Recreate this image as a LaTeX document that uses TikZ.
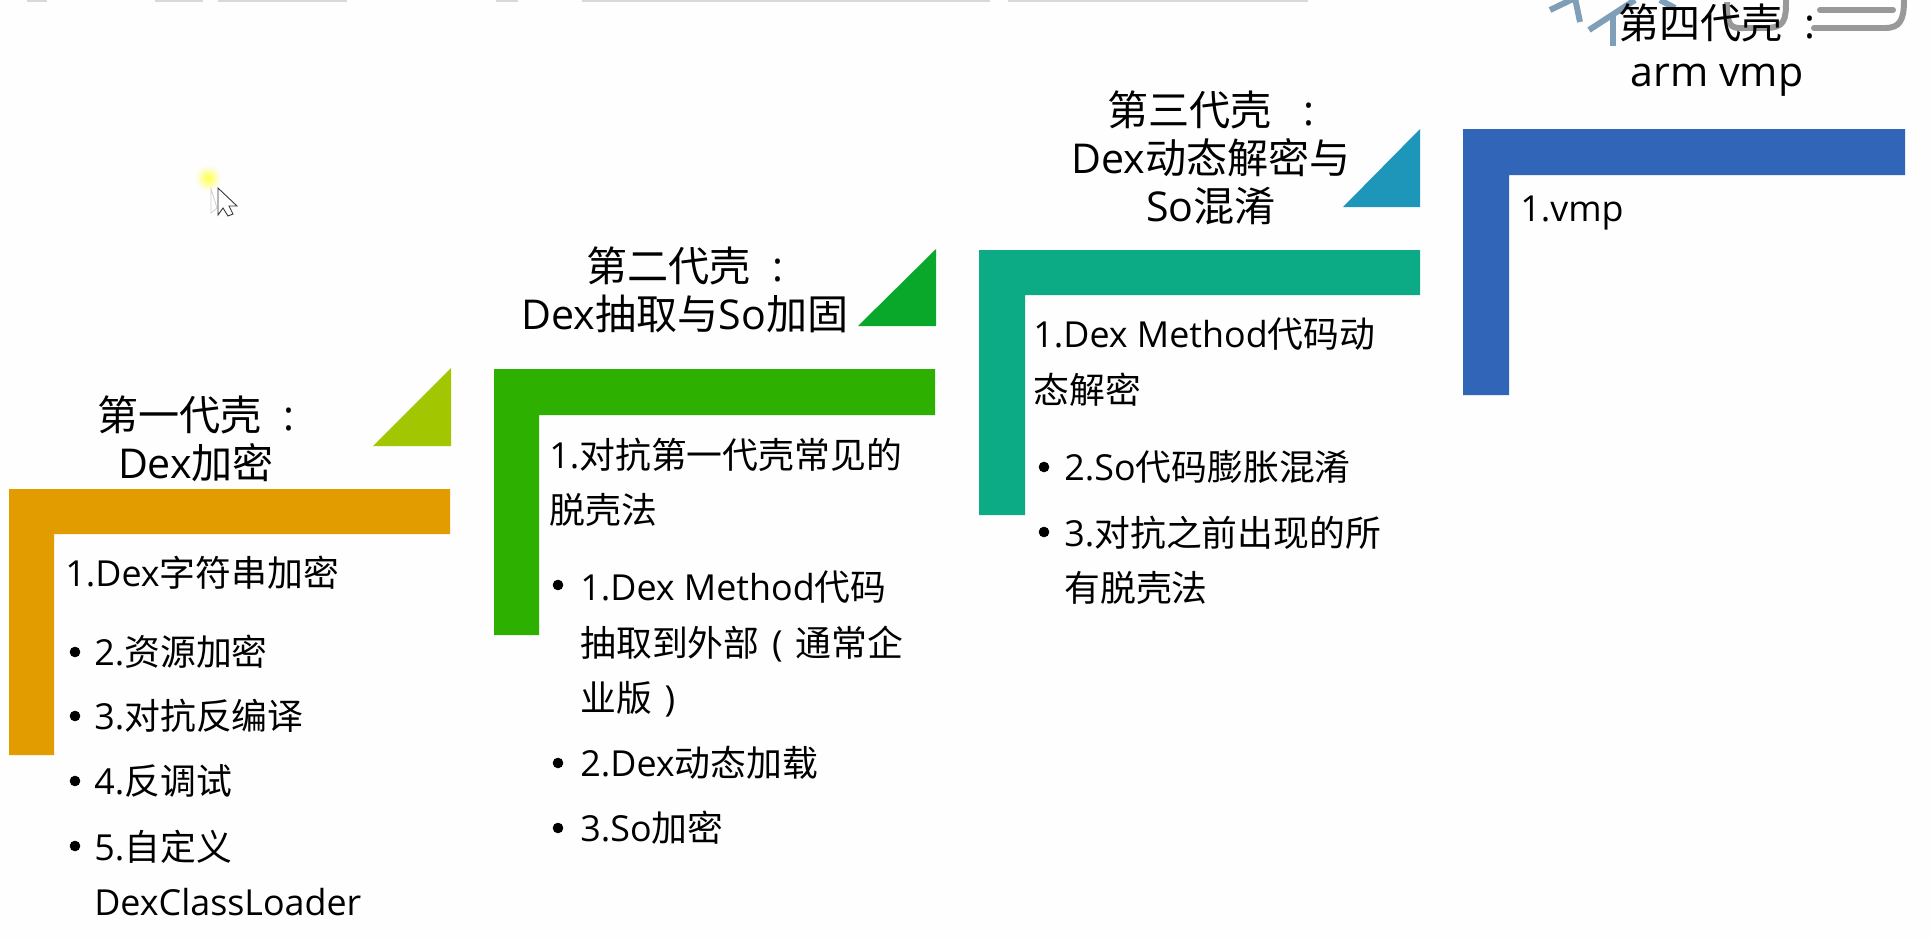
\documentclass[tikz,border=0pt]{standalone}
\usepackage{fontspec}
\setmainfont{Noto Sans CJK SC}
\newfontfamily\latn{Open Sans}
\definecolor{paper}{HTML}{FDFEFD}
\definecolor{orangebar}{HTML}{E39C00}
\definecolor{limetri}{HTML}{A2C600}
\definecolor{greenbar}{HTML}{2DB000}
\definecolor{greentri}{HTML}{0AA82A}
\definecolor{tealbar}{HTML}{0DAA86}
\definecolor{bluetri}{HTML}{1E96BA}
\definecolor{bluebar}{HTML}{3165B8}
\definecolor{markblue}{HTML}{7F9FB8}
\definecolor{markgray}{HTML}{999999}
\begin{document}
\begin{tikzpicture}
	[x=0.02cm,y=-0.02cm,
	dot/.style={circle,draw=black!100,fill=black!100,inner sep=0pt,minimum size=5.6pt},
	title/.style={align=center,inner sep=0pt,font=\fontsize{23.4}{27.4}\selectfont},
	item/.style={anchor=west,align=left,inner sep=0pt,font=\fontsize{20.4}{31.5}\selectfont},
	markline/.style={line width=3.4pt,line cap=butt}]
    \useasboundingbox (0,0) rectangle (1931,940);
    \fill[paper] (0,0) rectangle (1931,940);
    % top edge
    \fill[black!15] (27,0) rectangle (47,2);
    \fill[black!15] (155,0) rectangle (203,2);
    \fill[black!15] (218,0) rectangle (347,2);
    \fill[black!15] (496,0) rectangle (518,2);
    \fill[black!15] (582,0) rectangle (990,2);
    \fill[black!15] (1008,0) rectangle (1308,2);
    % watermark
    \draw[markblue,markline] (1550,10) -- (1575,-2) -- (1580,22);
    \draw[markblue,markline] (1589,30) -- (1635,0);
    \draw[markblue,markline] (1613,46) -- (1613,14);
    \draw[markblue,markline] (1660,0) -- (1675,8);
    \draw[markgray,markline] (1727,2) -- (1727,7) .. controls (1727,30) and (1735,28) .. (1745,28) -- (1765,28) .. controls (1785,28) and (1786,20) .. (1786,0);
    \draw[markgray,markline,line cap=round] (1820,10) -- (1893,10);
    \draw[markgray,markline,line cap=round] (1814,28) -- (1885,28) .. controls (1900,28) and (1904,20) .. (1904,0);
    % pointer
    \shade[inner color=yellow!70,outer color=paper] (208,178) circle (13);
    \draw[black!20,fill=white] (211,189) -- (211,213) -- (217,208) -- cycle;
    \draw[black!80,fill=white,line width=0.5pt] (218,188) -- (218,215) -- (223,208) -- (228,216) -- (233,214) -- (229,206) -- (237,206) -- cycle;
    % bars
    \fill[orangebar] (9,489) -- (450,489) -- (450,534) -- (54,534) -- (54,755) -- (9,755) -- cycle;
    \fill[greenbar] (494,369) -- (935,369) -- (935,415) -- (539,415) -- (539,635) -- (494,635) -- cycle;
    \fill[tealbar] (979,250) -- (1420,250) -- (1420,295) -- (1025,295) -- (1025,515) -- (979,515) -- cycle;
    \fill[bluebar] (1463,129) -- (1905,129) -- (1905,175) -- (1509,175) -- (1509,395) -- (1463,395) -- cycle;
    % triangles
    \fill[limetri] (373,446) -- (451,446) -- (451,368) -- cycle;
    \fill[greentri] (858,326) -- (936,326) -- (936,249) -- cycle;
    \fill[bluetri] (1343,207) -- (1420,207) -- (1420,129) -- cycle;
    % titles
    \node[title] at (196,439) (t1) {第一代壳{\latn\ \ :}\\{\latn Dex}加密};
    \node[title] at (685,290) (t2) {第二代壳{\latn\ \ :}\\{\latn Dex}抽取与{\latn So}加固};
    \node[title] at (1211,158) (t3) {第三代壳{\latn\ \ \ :}\\{\latn Dex}动态解密与\\{\latn So}混淆};
    \node[title] at (1717,50) (t4) {第四代壳{\latn\ \ :}\\{\latn arm vmp}};
    % first column
    \node[item] at (65,573) (a1) {{\latn 1.Dex}字符串加密};
    \node[dot] at (75,652) (ba2) {};
    \node[item] at (94,652) (a2) {{\latn 2.}资源加密};
    \node[dot] at (75,716) (ba3) {};
    \node[item] at (94,716) (a3) {{\latn 3.}对抗反编译};
    \node[dot] at (75,781) (ba4) {};
    \node[item] at (94,781) (a4) {{\latn 4.}反调试};
    \node[dot] at (75,846) (ba5) {};
    \node[item] at (94,873) (a5) {{\latn 5.}自定义\\{\latn DexClassLoader}};
    % second column
    \node[item] at (549,482) (c1) {{\latn 1.}对抗第一代壳常见的\\脱壳法};
    \node[dot] at (558,585) (bc2) {};
    \node[item] at (580,644) (c2) {{\latn 1.Dex Method}代码\\抽取到外部\makebox[1em]{\latn (}通常企\\业版\makebox[1em]{\latn )}};
    \node[dot] at (558,763) (bc3) {};
    \node[item] at (580,763) (c3) {{\latn 2.Dex}动态加载};
    \node[dot] at (558,828) (bc4) {};
    \node[item] at (580,828) (c4) {{\latn 3.So}加密};
    % third column
    \node[item] at (1033,362) (e1) {{\latn 1.Dex Method}代码动\\态解密};
    \node[dot] at (1044,467) (be2) {};
    \node[item] at (1064,467) (e2) {{\latn 2.So}代码膨胀混淆};
    \node[dot] at (1044,532) (be3) {};
    \node[item] at (1064,560) (e3) {{\latn 3.}对抗之前出现的所\\有脱壳法};
    % fourth column
    \node[item] at (1520,213) (g1) {{\latn 1.vmp}};
\end{tikzpicture}
\end{document}
